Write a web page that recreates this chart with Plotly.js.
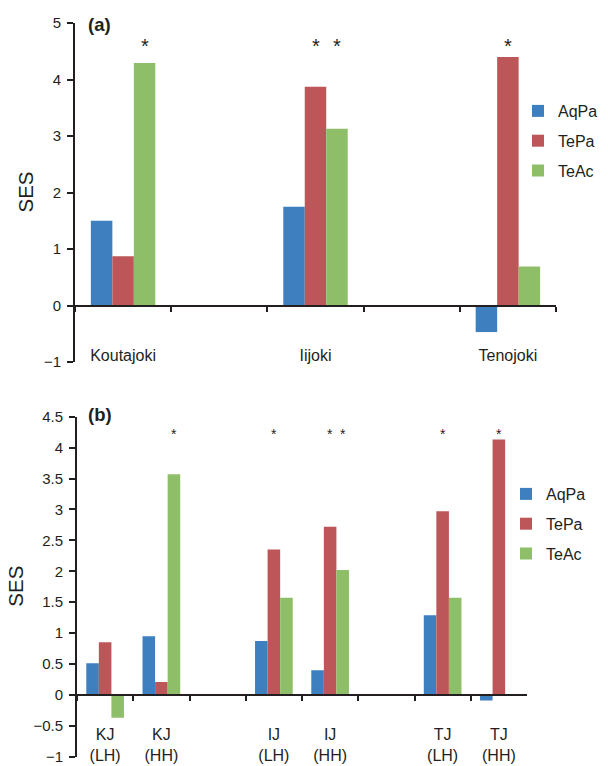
<!DOCTYPE html>
<html>
<head>
<meta charset="utf-8">
<script src="https://cdn.plot.ly/plotly-3.0.1.min.js"></script>
<style>html,body{margin:0;padding:0;background:#fff;}#chart{width:608px;height:766px;}</style>
</head>
<body>
<div id="chart"></div>
<script>
// ---------- DATA ----------
// Panel (a)
const slotsA = ['Koutajoki', 'gapA1', 'Iijoki', 'gapA2', 'Tenojoki'];
const labelsA = ['Koutajoki', '', 'Iijoki', '', 'Tenojoki'];
const riversA = ['Koutajoki', 'Iijoki', 'Tenojoki'];
const aqpaA = [1.50, 1.75, -0.47];
const tepaA = [0.87, 3.87, 4.40];
const teacA = [4.29, 3.13, 0.69];
const sigAqpaA = [false, false, false];
const sigTepaA = [false, true, true];
const sigTeacA = [true, true, false];

// Panel (b)
const slotsB = ['KJ (LH)', 'KJ (HH)', 'gapB1', 'IJ (LH)', 'IJ (HH)', 'gapB2', 'TJ (LH)', 'TJ (HH)'];
const labelsB = ['KJ<br>(LH)', 'KJ<br>(HH)', '', 'IJ<br>(LH)', 'IJ<br>(HH)', '', 'TJ<br>(LH)', 'TJ<br>(HH)'];
const sitesB = ['KJ (LH)', 'KJ (HH)', 'IJ (LH)', 'IJ (HH)', 'TJ (LH)', 'TJ (HH)'];
const aqpaB = [0.51, 0.95, 0.87, 0.40, 1.29, -0.09];
const tepaB = [0.85, 0.21, 2.35, 2.72, 2.97, 4.13];
const teacB = [-0.37, 3.57, 1.57, 2.02, 1.57, null];
const sigAqpaB = [false, false, false, false, false, false];
const sigTepaB = [false, false, true, true, true, true];
const sigTeacB = [false, true, false, true, false, false];

const seriesNames = ['AqPa', 'TePa', 'TeAc'];
const seriesColors = ['#3E7FBF', '#BC5658', '#8FBE68'];

// ---------- LAYOUT HELPERS ----------
const W = 608, H = 766;
const FONT = 'Liberation Sans, Arial, Helvetica, sans-serif';
const INK = '#231F20';
const px2fx = p => p / W;
const px2fy = p => 1 - p / H;

const domA = {x: [px2fx(75), px2fx(556)], y: [px2fy(362), px2fy(23)]};
const domB = {x: [px2fx(77), px2fx(527)], y: [px2fy(756.7), px2fy(416.7)]};
const rangeA = [-1, 5];
const rangeB = [-1, 4.5];
const bargap = 0.33;

function zeroPos(dom, rng) {
  return dom.y[0] + (0 - rng[0]) / (rng[1] - rng[0]) * (dom.y[1] - dom.y[0]);
}

const traces = [];
const seriesA = [aqpaA, tepaA, teacA];
const seriesB = [aqpaB, tepaB, teacB];
seriesNames.forEach((n, i) => {
  traces.push({type: 'bar', name: n, x: riversA, y: seriesA[i], xaxis: 'x', yaxis: 'y',
    marker: {color: seriesColors[i], line: {width: 0}}, legend: 'legend', legendgroup: 'a' + i, hoverinfo: 'x+y+name'});
});
seriesNames.forEach((n, i) => {
  traces.push({type: 'bar', name: n, x: sitesB, y: seriesB[i], xaxis: 'x2', yaxis: 'y2',
    marker: {color: seriesColors[i], line: {width: 0}}, legend: 'legend2', legendgroup: 'b' + i, hoverinfo: 'x+y+name'});
});

// asterisks
const annotations = [];
function addStars(cats, sigs, xref, yref, dom, nSlots, starY, size) {
  const slotPx = (dom.x[1] - dom.x[0]) * W / nSlots;
  const barPx = slotPx * (1 - bargap) / 3;
  sigs.forEach((sig, si) => {
    sig.forEach((s, ci) => {
      if (s) annotations.push({x: cats[ci], y: starY, xref: xref, yref: yref, text: '*', showarrow: false,
        xshift: (si - 1) * barPx, font: {family: FONT, size: size, color: INK}});
    });
  });
}
addStars(riversA, [sigAqpaA, sigTepaA, sigTeacA], 'x', 'y', domA, slotsA.length, 4.6, 20);
addStars(sitesB, [sigAqpaB, sigTepaB, sigTeacB], 'x2', 'y2', domB, slotsB.length, 4.22, 14);

// panel labels & y titles
annotations.push({text: '<b>(a)</b>', x: px2fx(86), y: px2fy(24), xref: 'paper', yref: 'paper', xanchor: 'left', yanchor: 'middle', showarrow: false, font: {family: FONT, size: 18.5, color: INK}});
annotations.push({text: '<b>(b)</b>', x: px2fx(86), y: px2fy(414), xref: 'paper', yref: 'paper', xanchor: 'left', yanchor: 'middle', showarrow: false, font: {family: FONT, size: 18.5, color: INK}});
annotations.push({text: 'SES', x: px2fx(25), y: (domA.y[0] + domA.y[1]) / 2, xref: 'paper', yref: 'paper', xanchor: 'center', yanchor: 'middle', textangle: -90, showarrow: false, font: {family: FONT, size: 20.5, color: INK}});
annotations.push({text: 'SES', x: px2fx(16), y: (domB.y[0] + domB.y[1]) / 2, xref: 'paper', yref: 'paper', xanchor: 'center', yanchor: 'middle', textangle: -90, showarrow: false, font: {family: FONT, size: 20.5, color: INK}});

function xAxis(slots, labels, dom, rng, standoff) {
  return {type: 'category', categoryorder: 'array', categoryarray: slots, tickmode: 'array', tickvals: slots, ticktext: labels,
    tickson: 'boundaries', ticks: 'outside', ticklen: 5, tickwidth: 2, tickcolor: INK,
    showline: true, linewidth: 2, linecolor: INK, showgrid: false, zeroline: false,
    anchor: 'free', position: zeroPos(dom, rng), domain: dom.x, range: [-0.5, slots.length - 0.5],
    ticklabelstandoff: standoff, tickfont: {family: FONT, size: 16, color: INK}, fixedrange: true};
}
function yAxis(dom, rng, dtick, anchor) {
  return {domain: dom.y, range: rng, dtick: dtick, tick0: 0, ticks: 'outside', ticklen: 6, tickwidth: 2, tickcolor: INK,
    showline: true, linewidth: 2, linecolor: INK, showgrid: false, zeroline: false, anchor: anchor,
    ticklabelstandoff: 3, tickfont: {family: FONT, size: 15, color: INK}, fixedrange: true};
}

const layout = {
  width: W, height: H, margin: {l: 0, r: 0, t: 0, b: 0},
  paper_bgcolor: '#fff', plot_bgcolor: 'rgba(0,0,0,0)',
  font: {family: FONT, color: INK},
  barmode: 'group', bargap: bargap, bargroupgap: 0,
  xaxis: xAxis(slotsA, labelsA, domA, rangeA, 35),
  yaxis: yAxis(domA, rangeA, 1, 'x'),
  xaxis2: xAxis(slotsB, labelsB, domB, rangeB, 25),
  yaxis2: yAxis(domB, rangeB, 0.5, 'x2'),
  legend: {x: px2fx(518), y: px2fy(94), xanchor: 'left', yanchor: 'top', bgcolor: 'rgba(0,0,0,0)', tracegroupgap: 6,
    font: {family: FONT, size: 16, color: INK}},
  legend2: {x: px2fx(506), y: px2fy(477), xanchor: 'left', yanchor: 'top', bgcolor: 'rgba(0,0,0,0)', tracegroupgap: 6,
    font: {family: FONT, size: 16, color: INK}},
  annotations: annotations,
  showlegend: true
};

Plotly.newPlot('chart', traces, layout, {displayModeBar: false, staticPlot: true});
</script>
</body>
</html>
